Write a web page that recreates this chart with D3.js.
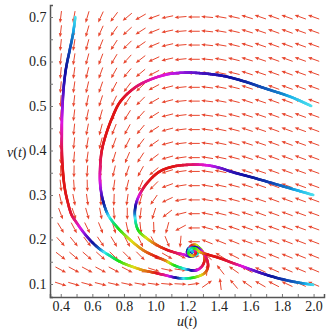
<!DOCTYPE html>
<html>
<head>
<meta charset="utf-8">
<script src="https://cdn.jsdelivr.net/npm/d3@7"></script>
<style>
  body { margin: 0; background: #fff; }
  text { font-family: "Liberation Serif", "DejaVu Serif", serif; }
</style>
</head>
<body>
<svg id="chart" width="330" height="330"></svg>
<script>
// grid of the direction field
const uGrid = [0.400, 0.484, 0.568, 0.653, 0.737, 0.821, 0.905, 0.989, 1.074, 1.158,
               1.242, 1.326, 1.411, 1.495, 1.579, 1.663, 1.747, 1.832, 1.916, 2.000];
const vGrid = [0.700, 0.668, 0.637, 0.605, 0.574, 0.542, 0.511, 0.479, 0.447, 0.416,
               0.384, 0.353, 0.321, 0.289, 0.258, 0.226, 0.195, 0.163, 0.132, 0.100];
// arrow directions in degrees (0 = right, 90 = up), one row per vGrid value
const fieldAngles = [
  [-97,-100,-107,-115,-127,-140,-150,-160,-168,-175,180,175,170,167,163,161,160,160,160,160],
  [-97,-100,-106,-114,-125,-137,-147,-158,-168,-175,180,174,170,167,163,161,160,160,160,160],
  [-96,-99,-105,-112,-123,-135,-145,-157,-167,-175,180,174,170,166,163,161,160,160,160,160],
  [-96,-99,-105,-111,-121,-132,-142,-155,-167,-174,180,174,169,166,163,161,160,160,160,160],
  [-95,-98,-104,-110,-119,-130,-140,-153,-167,-174,180,173,169,166,162,161,160,160,160,160],
  [-95,-98,-103,-109,-118,-127,-137,-152,-166,-174,180,173,169,166,162,161,160,160,160,160],
  [-94,-97,-102,-108,-116,-124,-135,-150,-166,-174,180,173,169,166,162,161,160,160,160,160],
  [-94,-97,-102,-106,-114,-122,-132,-148,-166,-173,180,172,169,165,162,161,160,160,160,160],
  [-93,-96,-101,-105,-112,-119,-130,-147,-165,-173,180,172,168,165,162,161,160,160,160,160],
  [-93,-96,-100,-104,-110,-117,-127,-145,-165,-173,180,172,168,165,162,161,160,160,160,160],
  [-92,-95,-98,-102,-107,-113,-123,-143,-164,-172,180,171,168,165,162,161,160,160,160,160],
  [-89,-91,-94,-98,-103,-109,-119,-140,-163,-172,180,171,168,165,162,161,160,160,160,160],
  [-84,-86,-89,-93,-98,-104,-113,-135,-160,-171,180,170,168,165,162,161,160,160,160,160],
  [-77,-79,-82,-87,-92,-98,-106,-125,-155,-170,180,170,168,165,162,161,160,160,160,160],
  [-69,-71,-74,-79,-85,-90,-97,-108,-142,-166,180,168,166,163,162,160,160,160,160,160],
  [-59,-62,-64,-68,-73,-78,-84,-88,-105,-152,180,165,163,161,161,160,160,160,160,160],
  [-48,-51,-53,-56,-59,-62,-65,-62,-68,-95,180,158,158,158,160,159,159,159,159,159],
  [-38,-40,-41,-42,-44,-45,-45,-36,-30,-25,0,140,148,153,157,158,158,158,158,158],
  [-28,-28,-28,-28,-28,-27,-26,-18,-12,-8,3,85,128,145,153,155,156,157,157,157],
  [-18,-16,-15,-14,-13,-12,-10,-8,-5,-3,8,35,97,130,145,150,153,155,156,157]
];

// solution curves: points [u, v] and the hue seen at each point
const trajA = [[1.985,0.500],[1.859,0.520],[1.690,0.540],[1.564,0.555],[1.437,0.567],[1.310,0.573],
  [1.185,0.575],[1.059,0.570],[0.920,0.552],[0.846,0.535],[0.773,0.508],[0.720,0.469],[0.682,0.431],
  [0.660,0.400],[0.650,0.367],[0.650,0.322],[0.669,0.285],[0.700,0.255],[0.754,0.229],[0.827,0.203],
  [0.922,0.176],[1.006,0.161],[1.060,0.153],[1.111,0.143],[1.196,0.133],[1.259,0.131],[1.300,0.143],
  [1.310,0.160],[1.290,0.177],[1.250,0.186],[1.210,0.181],[1.200,0.170],[1.225,0.163],[1.255,0.168],
  [1.250,0.178]];
const hueA = [185,195,215,230,242,255,275,300,325,345,360,360,360,355,335,290,240,190,130,70,
  30,0,30,110,200,290,350,380,440,500,560,620,680,740,790];

const trajB = [[1.998,0.300],[1.861,0.314],[1.735,0.327],[1.608,0.340],[1.482,0.352],[1.406,0.361],
  [1.322,0.367],[1.217,0.368],[1.111,0.364],[1.027,0.353],[0.964,0.334],[0.922,0.315],[0.880,0.285],
  [0.869,0.255],[0.890,0.221],[0.943,0.203],[1.006,0.188],[1.070,0.177],[1.130,0.170],[1.180,0.166],
  [1.220,0.162],[1.260,0.166],[1.275,0.178],[1.255,0.188],[1.225,0.186],[1.215,0.176],[1.232,0.171],
  [1.240,0.176]];
const hueB = [185,200,220,235,250,270,300,340,360,360,360,350,270,200,120,60,20,0,-20,-60,
  -120,-180,-240,-300,-360,-420,-480,-520];

const trajC = [[0.492,0.700],[0.478,0.663],[0.457,0.626],[0.435,0.588],[0.421,0.551],[0.413,0.513],
  [0.408,0.476],[0.407,0.439],[0.407,0.401],[0.412,0.361],[0.425,0.316],[0.445,0.283],[0.469,0.255],
  [0.500,0.238],[0.540,0.218],[0.585,0.199],[0.625,0.185],[0.660,0.175],[0.700,0.166],[0.750,0.155],
  [0.800,0.146],[0.860,0.138],[0.920,0.131],[0.985,0.126],[1.059,0.120],[1.153,0.113],[1.248,0.115],
  [1.312,0.125],[1.332,0.139],[1.322,0.158],[1.290,0.175],[1.250,0.183],[1.215,0.178],[1.210,0.168],
  [1.235,0.163],[1.255,0.170],[1.245,0.178]];
const hueC = [185,200,220,235,250,270,290,315,345,360,360,358,350,320,285,250,225,195,165,130,
  95,60,35,10,-40,-150,-260,-330,-360,-380,-430,-480,-540,-600,-660,-720,-770];

const trajD = [[1.998,0.098],[1.861,0.106],[1.735,0.117],[1.608,0.132],[1.530,0.142],[1.482,0.148],
  [1.407,0.158],[1.322,0.167],[1.280,0.172],[1.250,0.180],[1.225,0.178],[1.235,0.172]];
const hueD = [185,215,235,270,310,340,360,360,400,460,520,560];

const xTicks = [0.4,0.5,0.6,0.7,0.8,0.9,1.0,1.1,1.2,1.3,1.4,1.5,1.6,1.7,1.8,1.9,2.0];
const yTicks = [0.1,0.15,0.2,0.25,0.3,0.35,0.4,0.45,0.5,0.55,0.6,0.65,0.7];

const svg = d3.select("#chart");
const x = d3.scaleLinear().domain([0.332, 2.066]).range([50, 324]);
const y = d3.scaleLinear().domain([0.0708, 0.727]).range([297, 5]);

// direction field
const arrowColor = "#e8462e";
const field = svg.append("g");
const arrowLen = 12;
vGrid.forEach((v, j) => {
  uGrid.forEach((u, i) => {
    const a = fieldAngles[j][i] * Math.PI / 180;
    const dx = Math.cos(a), dy = -Math.sin(a);
    const cx = x(u), cy = y(v);
    const x0 = cx - dx * arrowLen / 2, y0 = cy - dy * arrowLen / 2;
    const x1 = cx + dx * arrowLen / 2, y1 = cy + dy * arrowLen / 2;
    const bx = x1 - dx * 4, by = y1 - dy * 4;
    field.append("line")
      .attr("x1", x0).attr("y1", y0).attr("x2", bx).attr("y2", by)
      .attr("stroke", arrowColor).attr("stroke-width", 1);
    field.append("path")
      .attr("d", `M${x1},${y1}L${bx - dy * 1.7},${by + dx * 1.7}L${bx + dy * 1.7},${by - dx * 1.7}Z`)
      .attr("fill", arrowColor);
  });
});

// hue -> colour, blues drawn darker and the cyan end lighter like the original
function hueColor(h) {
  let l = 0.48;
  if (h >= 170 && h < 200) l = 0.48 + 0.14 * (1 - Math.abs(h - 185) / 15);
  if (h >= 200 && h < 280) l = 0.48 - 0.14 * (1 - Math.abs(h - 235) / 45);
  return d3.hsl(h, 0.82, Math.min(l, 0.62));
}

// coloured solution curves
const curve = d3.line().x(d => x(d[0])).y(d => y(d[1])).curve(d3.curveCatmullRom.alpha(0.5));
function drawTraj(pts, hues) {
  const g = svg.append("g");
  const tmp = g.append("path").attr("d", curve(pts)).attr("fill", "none");
  const node = tmp.node();
  const total = node.getTotalLength();
  // chord lengths to map path length onto the point index
  const cum = [0];
  for (let i = 1; i < pts.length; i++) {
    cum.push(cum[i - 1] + Math.hypot(x(pts[i][0]) - x(pts[i - 1][0]), y(pts[i][1]) - y(pts[i - 1][1])));
  }
  const chordTotal = cum[cum.length - 1];
  const hueAt = s => {
    const c = s / total * chordTotal;
    let k = d3.bisectRight(cum, c) - 1;
    k = Math.max(0, Math.min(pts.length - 2, k));
    const f = (c - cum[k]) / (cum[k + 1] - cum[k] || 1);
    return hues[k] + (hues[k + 1] - hues[k]) * Math.max(0, Math.min(1, f));
  };
  const step = 1;
  let prev = node.getPointAtLength(0);
  for (let s = step; s <= total + step; s += step) {
    const p = node.getPointAtLength(Math.min(s, total));
    const h = ((hueAt(s - step / 2) % 360) + 360) % 360;
    g.append("line")
      .attr("x1", prev.x).attr("y1", prev.y).attr("x2", p.x).attr("y2", p.y)
      .attr("stroke", hueColor(h))
      .attr("stroke-width", 2.6).attr("stroke-linecap", "round");
    prev = p;
  }
  tmp.remove();
}
drawTraj(trajA, hueA);
drawTraj(trajB, hueB);
drawTraj(trajC, hueC);
drawTraj(trajD, hueD);

// axes
const xAxis = g => g
  .attr("transform", "translate(0," + 297 + ")")
  .call(d3.axisBottom(x).tickValues(xTicks).tickSize(-3).tickPadding(4)
    .tickFormat(d => Math.round(d * 10) % 2 === 0 ? d3.format(".1f")(d) : ""));
const yAxis = g => g
  .attr("transform", "translate(50,0)")
  .call(d3.axisLeft(y).tickValues(yTicks).tickSize(-3).tickPadding(3.5)
    .tickFormat(d => Math.round(d * 100) % 10 === 0 ? d3.format(".1f")(d) : ""));
svg.append("g").call(xAxis).attr("font-family", "Liberation Serif");
svg.append("g").call(yAxis).attr("font-family", "Liberation Serif");
svg.selectAll(".domain").attr("stroke", "#555").attr("stroke-width", 1.5);
svg.selectAll(".tick line").attr("stroke", "#777");
svg.selectAll(".tick text").attr("fill", "#222").style("font-size", "14px")
  .style("font-family", "'Liberation Serif', serif");

const vLabel = svg.append("text").attr("x", 7).attr("y", 157).attr("font-size", 14).attr("fill", "#222");
vLabel.append("tspan").attr("font-style", "italic").text("v");
vLabel.append("tspan").text("(");
vLabel.append("tspan").attr("font-style", "italic").text("t");
vLabel.append("tspan").text(")");

const uLabel = svg.append("text").attr("x", 187).attr("y", 326).attr("text-anchor", "middle")
  .attr("font-size", 14).attr("fill", "#222");
uLabel.append("tspan").attr("font-style", "italic").text("u");
uLabel.append("tspan").text("(");
uLabel.append("tspan").attr("font-style", "italic").text("t");
uLabel.append("tspan").text(")");
</script>
</body>
</html>
